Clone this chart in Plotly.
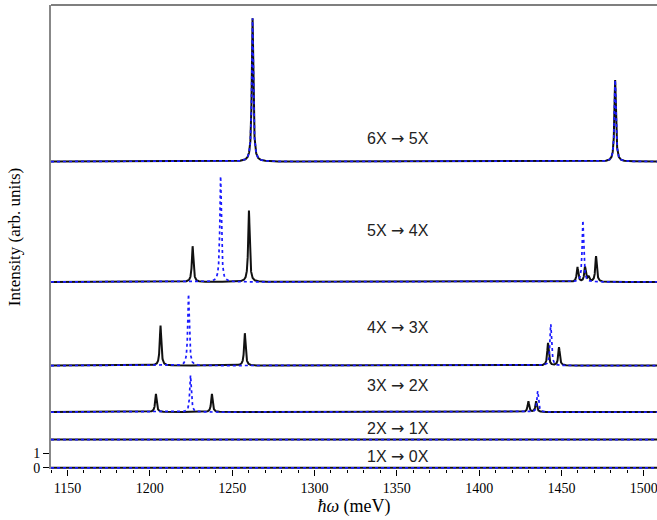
import numpy as np
import plotly.graph_objects as go

# Energy axis (meV)
E_MIN, E_MAX = 1140.0, 1508.0
HWHM = 0.55  # Lorentzian half width (meV)

# Transition labels, bottom to top, and vertical offset of each spectrum
ARROW = "<span style='font-family:DejaVu Sans'>\u2192</span>"
transitions = [f"1X {ARROW} 0X", f"2X {ARROW} 1X", f"3X {ARROW} 2X",
               f"4X {ARROW} 3X", f"5X {ARROW} 4X", f"6X {ARROW} 5X"]
offsets = [0.0, 1.98, 3.9, 7.15, 13.0, 21.42]
label_y = [0.77, 2.73, 5.73, 9.79, 16.57, 23.0]

# Peak positions (meV) and intensities (arb. units) -- full model (black solid)
full_pos = [
    [],
    [1220.0],
    [1203.7, 1237.7, 1429.9, 1434.6],
    [1206.5, 1257.7, 1441.8, 1448.5],
    [1226.0, 1260.2, 1459.7, 1464.3, 1466.4, 1471.0],
    [1262.4, 1482.6],
]
full_amp = [
    [],
    [0.05],
    [1.28, 1.28, 0.75, 0.75],
    [2.8, 2.27, 1.59, 1.29],
    [2.5, 5.0, 1.03, 1.03, 0.35, 1.8],
    [10.03, 5.7],
]

# Peak positions and intensities -- reduced model (blue dashed)
red_pos = [
    [],
    [],
    [1224.7, 1435.6],
    [1223.5, 1443.5],
    [1243.0, 1463.0],
    [1262.4, 1482.6],
]
red_amp = [
    [],
    [],
    [2.57, 1.47],
    [5.0, 2.9],
    [7.4, 4.3],
    [10.03, 5.7],
]

energy = np.arange(E_MIN, E_MAX + 0.02, 0.04)


def spectrum(pos, amp):
    y = np.zeros_like(energy)
    for p, a in zip(pos, amp):
        y += a * HWHM**2 / ((energy - p) ** 2 + HWHM**2)
    return y


fig = go.Figure()
for k in range(len(transitions)):
    fig.add_trace(go.Scatter(
        x=energy, y=spectrum(full_pos[k], full_amp[k]) + offsets[k],
        mode="lines", line=dict(color="#111111", width=2),
        showlegend=False, hoverinfo="skip"))
    fig.add_trace(go.Scatter(
        x=energy, y=spectrum(red_pos[k], red_amp[k]) + offsets[k],
        mode="lines", line=dict(color="#1a1aff", width=1.7, dash="3px,3px"),
        showlegend=False, hoverinfo="skip"))

for text, yy in zip(transitions, label_y):
    fig.add_annotation(x=1350.5, y=yy, text=text, showarrow=False,
                       font=dict(family="Liberation Sans, Arial, sans-serif", size=16, color="#222222"))

# top frame line
fig.add_shape(type="line", xref="paper", yref="paper", x0=0, x1=1, y0=1, y1=1,
              line=dict(color="#555555", width=1.5))

serif = "Liberation Serif, Times New Roman, serif"
fig.update_layout(
    width=657, height=520,
    margin=dict(l=51, r=0, t=5, b=51),
    paper_bgcolor="white", plot_bgcolor="white",
    font=dict(family=serif, size=14, color="black"),
    xaxis=dict(
        range=[E_MIN, E_MAX], showgrid=False, zeroline=False, showline=False,
        tickmode="linear", tick0=1150, dtick=50,
        ticks="outside", ticklen=6, tickwidth=1, tickcolor="black",
        minor=dict(ticks="outside", ticklen=3, dtick=10, tick0=1150, tickcolor="black", tickwidth=1),
        tickfont=dict(family=serif, size=14), ticklabeloverflow="allow",
        title=dict(text="<i>\u0127\u03c9</i> (meV)", font=dict(family=serif, size=18), standoff=4),
    ),
    yaxis=dict(
        range=[-0.08, 32.37], showgrid=False, zeroline=False,
        showline=True, linecolor="#888888", linewidth=2,
        tickmode="array", tickvals=[0, 1], ticktext=["0", "1"],
        ticks="outside", ticklen=6, tickcolor="black",
        tickfont=dict(family=serif, size=14),
        title=dict(text="Intensity (arb. units)", font=dict(family=serif, size=17), standoff=8),
    ),
)

fig.write_html("out.html")
